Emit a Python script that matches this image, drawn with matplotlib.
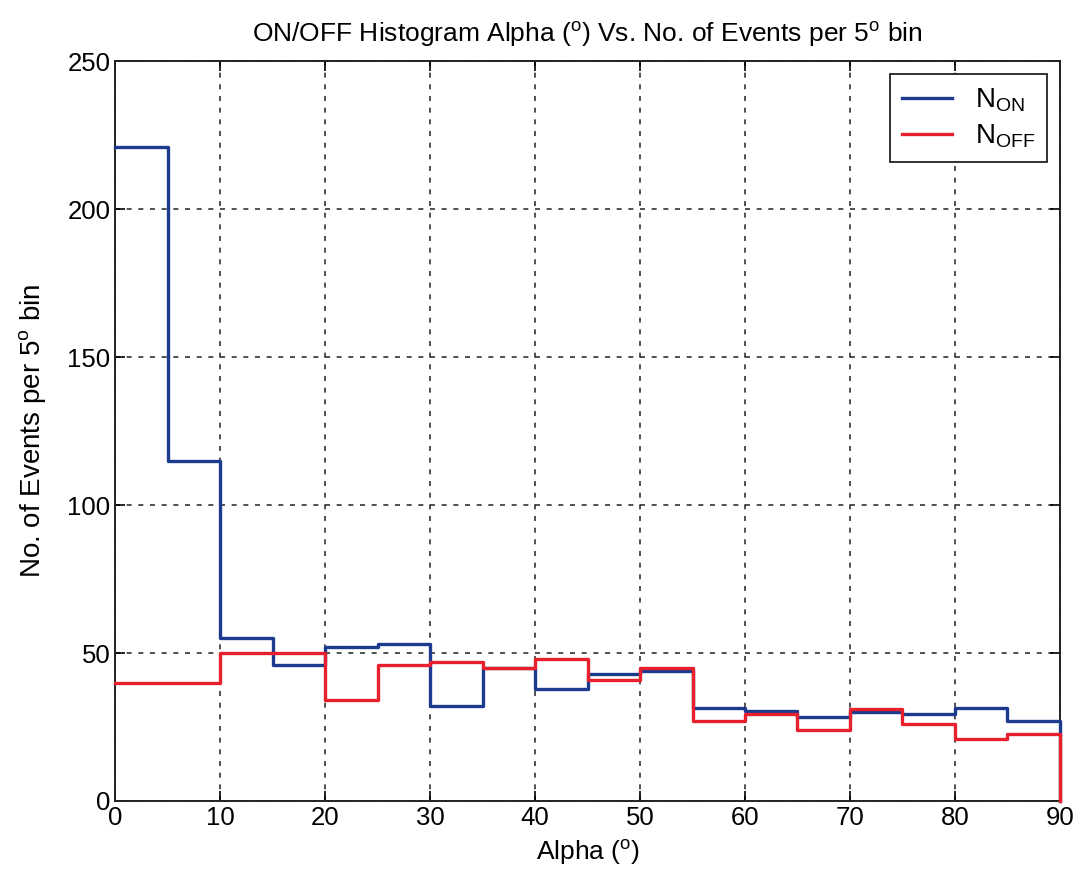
import matplotlib.pyplot as plt
import numpy as np

plt.rcParams['font.family'] = ['Liberation Sans', 'DejaVu Sans']
plt.rcParams['mathtext.fontset'] = 'custom'
plt.rcParams['mathtext.rm'] = 'Liberation Sans'

# 5 degree bins, 0..90
edges = np.arange(0, 95, 5)
n_on = [221, 115, 55, 46, 52, 53, 32, 45, 38, 43, 44, 31.5, 30.5, 28.5, 30, 29.5, 31.5, 27]
n_off = [40, 40, 50, 50, 34, 46, 47, 45, 48, 41, 45, 27, 29.5, 24, 31, 26, 21, 22.5]


def step_xy(vals):
    # stairs outline that drops to zero at the last edge
    x = list(edges) + [edges[-1]]
    y = list(vals) + [vals[-1], 0]
    return x, y


fig = plt.figure(figsize=(10.86, 8.9), dpi=100)
ax = fig.add_axes([0.106, 0.100, 0.870, 0.831])

x, y = step_xy(n_on)
ax.step(x, y, where='post', color='#1c3a8e', lw=2.4, zorder=4, clip_on=False,
        label=r'$\mathregular{N_{ON}}$')
x, y = step_xy(n_off)
ax.step(x, y, where='post', color='#e8202e', lw=2.4, zorder=4, clip_on=False,
        label=r'$\mathregular{N_{OFF}}$')

ax.set_xlim(0, 90)
ax.set_ylim(0, 250)
ax.set_xticks(range(0, 91, 10))
ax.set_yticks(range(0, 251, 50))
ax.grid(True, color='#333333', linestyle=(0, (3, 4)), lw=1.2)
ax.tick_params(direction='in', top=True, right=True, labelsize=18.5, length=7, width=1.2)
for s in ax.spines.values():
    s.set_linewidth(1.4)
    s.set_color('#222222')

ax.set_title(r'ON/OFF Histogram Alpha ($\mathregular{^o}$) Vs. No. of Events per 5$\mathregular{^o}$ bin',
             fontsize=19, pad=14)
ax.set_xlabel(r'Alpha ($\mathregular{^o}$)', fontsize=19, labelpad=6)
ax.set_ylabel(r'No. of Events per 5$\mathregular{^o}$ bin', fontsize=20, labelpad=14)

leg = ax.legend(loc='upper right', fontsize=20, fancybox=False, framealpha=1,
                edgecolor='#222222', handlelength=1.8, borderpad=0.45, labelspacing=0.3,
                borderaxespad=0.45)
leg.get_frame().set_linewidth(1.3)
leg.set_zorder(5)

fig.savefig('out.png', dpi=100)
